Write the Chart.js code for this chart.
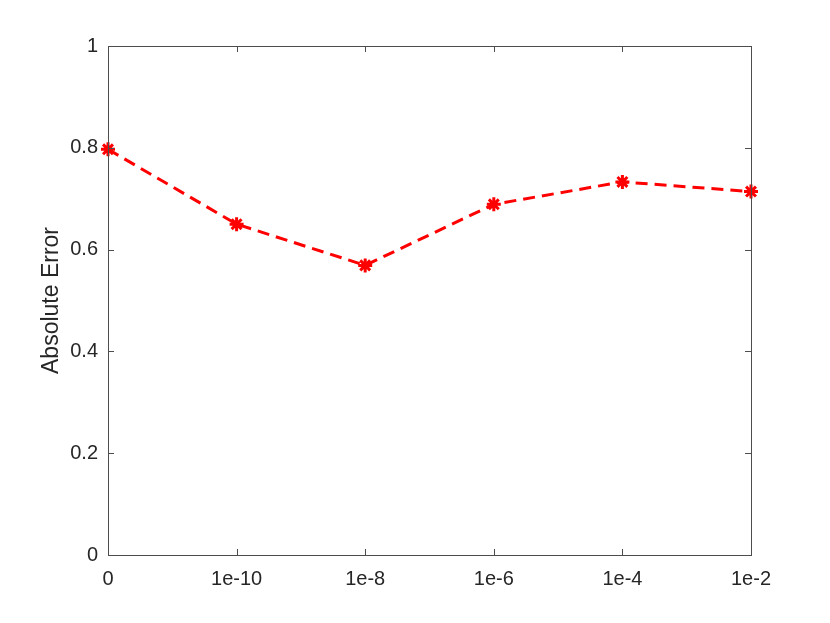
<!DOCTYPE html>
<html>
<head>
<meta charset="utf-8">
<script src="https://cdn.jsdelivr.net/npm/chart.js@4/dist/chart.umd.min.js"></script>
<style>
  html, body { margin: 0; padding: 0; background: #fff; }
  #wrap { width: 830px; height: 623px; }
</style>
</head>
<body>
<div id="wrap"><canvas id="myChart"></canvas></div>
<script>
// data
var categories = ["0", "1e-10", "1e-8", "1e-6", "1e-4", "1e-2"];
var absError = [0.797, 0.650, 0.569, 0.689, 0.733, 0.714];
var yTicks = [0, 0.2, 0.4, 0.6, 0.8, 1];

// MATLAB style box + inward ticks
var boxTicks = {
  id: "boxTicks",
  afterDraw: function (chart) {
    var c = chart.ctx, a = chart.chartArea;
    var xs = chart.scales.x, ys = chart.scales.y;
    var len = 6;
    c.save();
    c.strokeStyle = "#4d4d4d";
    c.lineWidth = 1;
    c.strokeRect(a.left + 0.5, a.top + 0.5, a.right - a.left, a.bottom - a.top);
    c.beginPath();
    for (var i = 0; i < categories.length; i++) {
      var x = Math.round(xs.getPixelForValue(i)) + 0.5;
      c.moveTo(x, a.bottom); c.lineTo(x, a.bottom - len);
      c.moveTo(x, a.top); c.lineTo(x, a.top + len);
    }
    yTicks.forEach(function (v) {
      var y = Math.round(ys.getPixelForValue(v)) + 0.5;
      c.moveTo(a.left, y); c.lineTo(a.left + len, y);
      c.moveTo(a.right, y); c.lineTo(a.right - len, y);
    });
    c.stroke();
    c.restore();
  }
};

var ctx = document.getElementById("myChart").getContext("2d");
var chart = new Chart(ctx, {
  type: "line",
  data: {
    labels: categories,
    datasets: [
      {
        label: "Absolute Error",
        data: absError,
        borderColor: "#ff0000",
        backgroundColor: "#ff0000",
        borderWidth: 3,
        borderDash: [12, 7],
        pointStyle: "star",
        pointRadius: 7,
        pointBorderWidth: 3,
        pointBorderColor: "#ff0000",
        pointBackgroundColor: "#ff0000",
        tension: 0,
        clip: false,
      },
    ],
  },
  options: {
    responsive: true,
    maintainAspectRatio: false,
    animation: false,
    layout: { padding: { left: 38, top: 46, right: 79, bottom: 0 } },
    plugins: {
      legend: { display: false },
      tooltip: { enabled: false },
    },
    scales: {
      x: {
        offset: false,
        grid: { display: false },
        border: { display: false },
        ticks: {
          color: "#262626",
          font: { family: "Liberation Sans", size: 20 },
          padding: 4,
          maxRotation: 0,
        },
        afterFit: function (s) { s.height = 68; },
      },
      y: {
        min: 0,
        max: 1,
        grid: { display: false },
        border: { display: false },
        afterBuildTicks: function (s) {
          s.ticks = yTicks.map(function (v) { return { value: v }; });
        },
        ticks: {
          color: "#262626",
          font: { family: "Liberation Sans", size: 20 },
          padding: 2,
          callback: function (v) { return String(v); },
        },
        title: {
          display: true,
          text: "Absolute Error",
          color: "#262626",
          font: { family: "Liberation Sans", size: 23 },
          padding: { top: 0, bottom: 0 },
        },
        afterFit: function (s) { s.width = 70; },
      },
    },
  },
  plugins: [boxTicks],
});
</script>
</body>
</html>
